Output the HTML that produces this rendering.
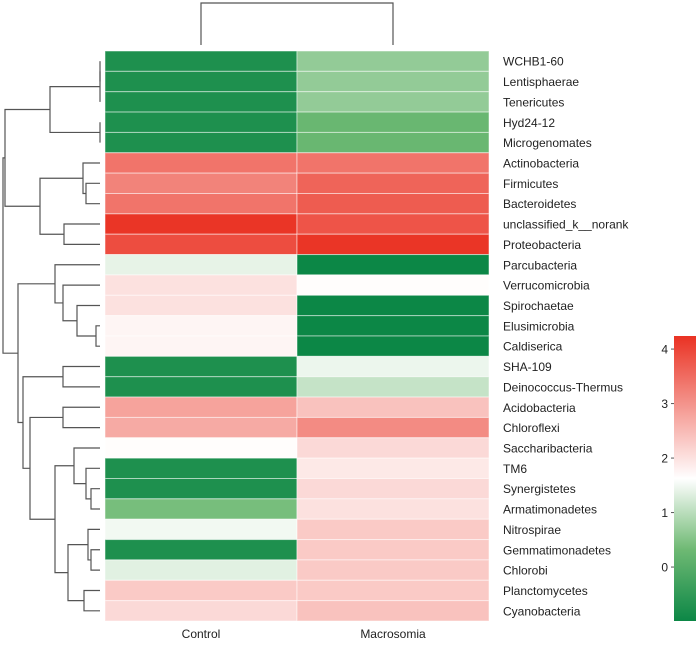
<!DOCTYPE html>
<html><head><meta charset="utf-8"><style>
body{margin:0;background:#fff;}
svg{display:block;font-family:"Liberation Sans",sans-serif;}
</style></head><body>
<svg id="c" width="700" height="648"></svg>
<script>
const rowNames=["WCHB1-60","Lentisphaerae","Tenericutes","Hyd24-12","Microgenomates","Actinobacteria","Firmicutes","Bacteroidetes","unclassified_k__norank","Proteobacteria","Parcubacteria","Verrucomicrobia","Spirochaetae","Elusimicrobia","Caldiserica","SHA-109","Deinococcus-Thermus","Acidobacteria","Chloroflexi","Saccharibacteria","TM6","Synergistetes","Armatimonadetes","Nitrospirae","Gemmatimonadetes","Chlorobi","Planctomycetes","Cyanobacteria"];
const colNames=["Control","Macrosomia"];
const controlVals=[-0.75,-0.75,-0.75,-0.75,-0.75,3.4,3.2,3.4,4.2,3.9,1.4,2.0,2.0,1.75,1.75,-0.75,-0.75,2.8,2.7,1.65,-0.75,-0.75,0.4,1.5,-0.75,1.35,2.3,2.1];
const macroVals=[0.65,0.65,0.65,0.25,0.25,3.4,3.6,3.7,3.8,4.2,-1,1.65,-1,-1,-1,1.45,1.1,2.4,3.1,2.1,1.9,2.1,2.0,2.3,2.3,2.3,2.3,2.4];
const scaleTicks=[0,1,2,3,4];
// dendrogram merges: [childA, childB, x-position height]
const merges=[[0,1,100],[28,2,100],[3,4,100],[29,30,50],[6,7,86],[5,32,83],[8,9,64],[33,34,40],[31,35,5],[13,14,96],[12,37,77],[11,38,63],[10,39,55],[15,16,63],[17,18,63],[21,22,91],[20,43,86],[19,44,74],[24,25,91],[23,46,88],[26,27,84],[47,48,68],[45,49,55],[42,50,30],[41,51,23],[40,52,18],[36,53,3]];

const NS="http://www.w3.org/2000/svg";
const svg=document.getElementById('c');
function mk(t,a,p){const e=document.createElementNS(NS,t);for(const k in a)e.setAttribute(k,a[k]);(p||svg).appendChild(e);return e;}
const X0=105,CW=192,Y0=51,Y1=621,RH=(Y1-Y0)/rowNames.length;
const vMin=-0.99,vMax=4.24,vMid=1.62;
function lerp(a,b,t){return a.map((c,i)=>c+(b[i]-c)*t);}
function color(v){
  const g=[12,135,70],gm=[110,185,115],w=[255,255,255],r=[234,50,35];
  let c,t;
  if(v<vMid){t=(v-vMin)/(vMid-vMin);t=Math.max(0,t);c=t<0.5?lerp(g,gm,t/0.5):lerp(gm,w,(t-0.5)/0.5);}
  else{t=Math.min(1,(v-vMid)/(vMax-vMid));c=lerp(w,r,t);}
  return `rgb(${c.map(Math.round).join(',')})`;
}
const rowY=i=>Y0+RH*(i+0.5);
const cols=[controlVals,macroVals];
const cells=mk('g',{});


cols.forEach((vals,c)=>vals.forEach((v,i)=>{
  const r=mk('rect',{x:X0+c*CW,y:Y0+i*RH,width:CW,height:RH,fill:color(v),stroke:'#fff','stroke-opacity':0.5,'stroke-width':1},cells);
  
  
}));
rowNames.forEach((n,i)=>{
  const t=mk('text',{x:503,y:rowY(i)+4.5,'font-size':12,fill:'#222'});t.textContent=n;
  
  
});
colNames.forEach((n,c)=>{
  const t=mk('text',{x:X0+c*CW+CW/2,y:638,'font-size':12,fill:'#222','text-anchor':'middle'});t.textContent=n;
  
  
});
const nodes=rowNames.map((_,i)=>({x:100,y:rowY(i)}));
const dg=mk('g',{stroke:'#555','stroke-width':1.2,fill:'none'});


merges.forEach(([a,b,x])=>{
  const A=nodes[a],B=nodes[b];
  mk('path',{d:`M${A.x},${A.y}H${x}V${B.y}H${B.x}`},dg);
  nodes.push({x:x,y:(A.y+B.y)/2});
});
const cd=mk('path',{d:`M${X0+CW/2},45V3H${X0+CW*1.5}V45`,stroke:'#555','stroke-width':1.2,fill:'none'});


const defs=mk('defs',{});
const lg=mk('linearGradient',{id:'gr',x1:0,y1:1,x2:0,y2:0},defs);
for(let k=0;k<=40;k++){const v=vMin+(vMax-vMin)*k/40;mk('stop',{offset:k/40,'stop-color':color(v)},lg);}
const CB0=336,CB1=621;
const sy=v=>CB1-(v-vMin)/(vMax-vMin)*(CB1-CB0);
const cb=mk('rect',{x:674,y:CB0,width:22,height:CB1-CB0,fill:'url(#gr)'});


scaleTicks.forEach(v=>{
  mk('line',{x1:671,x2:674,y1:sy(v),y2:sy(v),stroke:'#555'});
  const t=mk('text',{x:668,y:sy(v)+4.5,'font-size':12,fill:'#222','text-anchor':'end'});t.textContent=v;
  
  
});
</script>
</body></html>
